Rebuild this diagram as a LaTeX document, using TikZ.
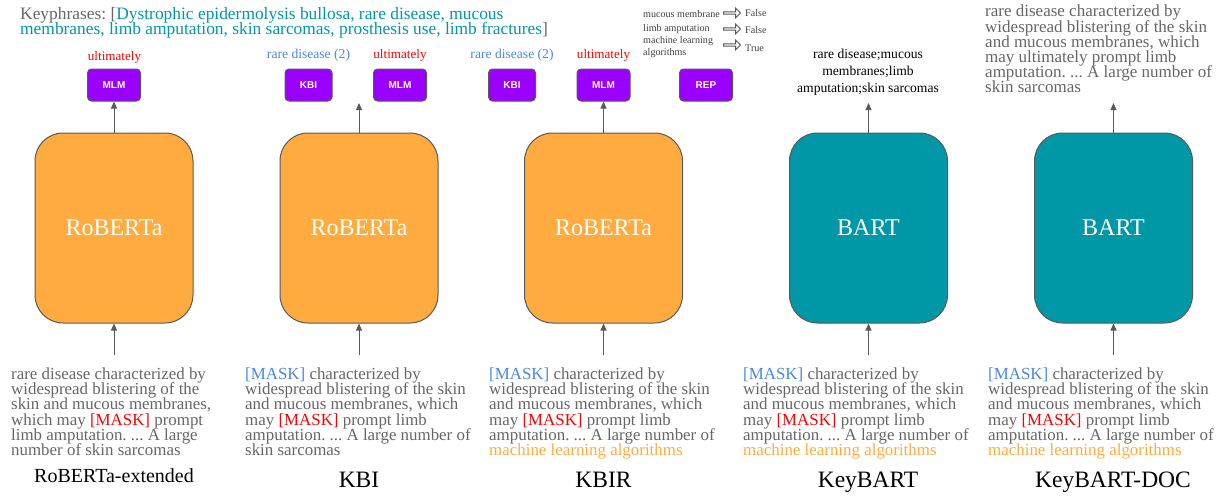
\documentclass[tikz,border=0pt]{standalone}
\usepackage{fontspec}
\setmainfont{Liberation Serif}
\newfontfamily\labelsans{Liberation Sans}
\usetikzlibrary{shapes.arrows,arrows.meta}
\definecolor{bodygray}{HTML}{666666}
\definecolor{maskblue}{HTML}{4A86E8}
\definecolor{maskred}{HTML}{FF0000}
\definecolor{mlorange}{HTML}{FFAB40}
\definecolor{tealtxt}{HTML}{0097A7}
\definecolor{modelteal}{HTML}{0097A7}
\definecolor{headpurple}{HTML}{9900FF}
\definecolor{edgegray}{HTML}{595959}
\newcommand{\tightlines}{\lineskiplimit=-20pt\frenchspacing}
\tikzset{
  modelbox/.style={draw=edgegray,line width=1pt,rounded corners=28pt,minimum width=158pt,minimum height=190pt,inner sep=0pt,text=white,font=\fontsize{24}{26}\selectfont},
  robox/.style={modelbox,fill=mlorange},
  bartbox/.style={modelbox,fill=modelteal},
  headbox/.style={draw=edgegray,line width=1pt,fill=headpurple,rounded corners=4pt,minimum height=32pt,inner sep=0pt,text=white,font=\labelsans\bfseries\fontsize{10}{12}\selectfont},
  conn/.style={draw=edgegray,line width=1pt,-{Triangle[length=7pt,width=6pt]}},
  bodytext/.style={anchor=north west,inner sep=0pt,align=left,text=bodygray,font=\fontsize{16.9}{15.2}\selectfont\tightlines},
  captiontext/.style={anchor=base,inner sep=0pt,text=black,font=\fontsize{23.5}{26}\selectfont},
  toplabel/.style={anchor=base,inner sep=0pt,font=\fontsize{13.6}{15}\selectfont},
  redlabel/.style={toplabel,text=maskred,font=\fontsize{13.1}{15}\selectfont},
  smalltext/.style={anchor=base west,inner sep=0pt,text=black!75,font=\fontsize{10.1}{11}\selectfont},
  blockarrow/.style={single arrow,draw=edgegray,fill=white,line width=.9pt,minimum height=17pt,minimum width=10pt,single arrow head extend=1.5pt,inner sep=0pt}
}
\newcommand{\mbl}[1]{\textcolor{maskblue}{#1}}
\newcommand{\mrd}[1]{\textcolor{maskred}{#1}}
\newcommand{\mog}[1]{\textcolor{mlorange}{#1}}
\newcommand{\boxlabel}[1]{\raisebox{-2pt}{#1}}
\begin{document}
\begin{tikzpicture}[x=1pt,y=-1pt]
\useasboundingbox (0,0) rectangle (1222,495);
% keyphrases
\node[bodytext,font=\fontsize{17.4}{15}\selectfont\tightlines] (keys) at (20,7.5) {Keyphrases: [\textcolor{tealtxt}{Dystrophic epidermolysis bullosa, rare disease, mucous}\\\textcolor{tealtxt}{membranes, limb amputation, skin sarcomas, prosthesis use, limb fractures}]};
% model boxes
\node[robox] (m1) at (114,228) {\boxlabel{RoBERTa}};
\node[robox] (m2) at (359,228) {\boxlabel{RoBERTa}};
\node[robox] (m3) at (603.5,228) {\boxlabel{RoBERTa}};
\node[bartbox] (m4) at (868.5,228) {\boxlabel{BART}};
\node[bartbox] (m5) at (1113.5,228) {\boxlabel{BART}};
% head boxes
\node[headbox,minimum width=53pt] (mlm1) at (114,85) {MLM};
\node[headbox,minimum width=47pt] (kbi2) at (308.5,85) {KBI};
\node[headbox,minimum width=53pt] (mlm2) at (400,85) {MLM};
\node[headbox,minimum width=47pt] (kbi3) at (512,85) {KBI};
\node[headbox,minimum width=53pt] (mlm3) at (603.5,85) {MLM};
\node[headbox,minimum width=53pt] (rep3) at (706,85) {REP};
% head labels
\node[redlabel] (l1) at (114.5,60) {ultimately};
\node[toplabel,text=maskblue] (l2a) at (308.5,59) {rare disease (2)};
\node[redlabel] (l2b) at (400,59) {ultimately};
\node[toplabel,text=maskblue] (l3a) at (512,59) {rare disease (2)};
\node[redlabel] (l3b) at (603.5,59) {ultimately};
% REP annotation
\node[smalltext] (r1) at (643,17.5) {mucous membrane};
\node[smalltext] (r2) at (643,31.5) {limb amputation};
\node[smalltext] (r3) at (643,43.5) {machine learning};
\node[smalltext] (r4) at (643,55.5) {algorithms};
\node[blockarrow] (a1) at (731.5,13) {};
\node[blockarrow] (a2) at (731.5,29) {};
\node[blockarrow] (a3) at (731.5,45) {};
\node[smalltext] (f1) at (745,17) {False};
\node[smalltext] (f2) at (745,34) {False};
\node[smalltext] (f3) at (745,51.5) {True};
% outputs
\node[anchor=north,inner sep=0pt,align=center,text=black,font=\fontsize{13.6}{17}\selectfont] (o4) at (868,48.5) {rare disease;mucous\\membranes;limb\\amputation;skin sarcomas};
\node[bodytext,font=\fontsize{17}{15.2}\selectfont\tightlines] (o5) at (985,5) {rare disease characterized by\\widespread blistering of the skin\\and mucous membranes, which\\may ultimately prompt limb\\amputation. ... A large number of\\skin sarcomas};
% inputs
\node[bodytext] (t1) at (11,367.5) {rare disease characterized by\\widespread blistering of the\\skin and mucous membranes,\\which may \mrd{[MASK]} prompt\\limb amputation. ... A large\\number of skin sarcomas};
\node[bodytext] (t2) at (245,367.5) {\mbl{[MASK]} characterized by\\widespread blistering of the skin\\and mucous membranes, which\\may \mrd{[MASK]} prompt limb\\amputation. ... A large number of\\skin sarcomas};
\node[bodytext] (t3) at (489,367.5) {\mbl{[MASK]} characterized by\\widespread blistering of the skin\\and mucous membranes, which\\may \mrd{[MASK]} prompt limb\\amputation. ... A large number of\\\mog{machine learning algorithms}};
\node[bodytext] (t4) at (743,367.5) {\mbl{[MASK]} characterized by\\widespread blistering of the skin\\and mucous membranes, which\\may \mrd{[MASK]} prompt limb\\amputation. ... A large number of\\\mog{machine learning algorithms}};
\node[bodytext] (t5) at (988,367.5) {\mbl{[MASK]} characterized by\\widespread blistering of the skin\\and mucous membranes, which\\may \mrd{[MASK]} prompt limb\\amputation. ... A large number of\\\mog{machine learning algorithms}};
% captions
\node[captiontext,font=\fontsize{20}{22}\selectfont] (c1) at (114,482) {RoBERTa-extended};
\node[captiontext] (c2) at (359,487) {KBI};
\node[captiontext] (c3) at (603.5,487) {KBIR};
\node[captiontext] (c4) at (868,487) {KeyBART};
\node[captiontext] (c5) at (1113,487) {KeyBART-DOC};
% free ends
\coordinate (in1) at (114,355);
\coordinate (in2) at (359,355);
\coordinate (in3) at (603.5,355);
\coordinate (in4) at (868.5,355);
\coordinate (in5) at (1113.5,355);
\coordinate (out2) at (359,103);
\coordinate (out4) at (868.5,103);
\coordinate (out5) at (1113.5,103);
% connectors
\draw[conn] (in1) -- (m1.south);
\draw[conn] (in2) -- (m2.south);
\draw[conn] (in3) -- (m3.south);
\draw[conn] (in4) -- (m4.south);
\draw[conn] (in5) -- (m5.south);
\draw[conn] (m1.north) -- (mlm1.south);
\draw[conn] (m2.north) -- (out2);
\draw[conn] (m3.north) -- (mlm3.south);
\draw[conn] (m4.north) -- (out4);
\draw[conn] (m5.north) -- (out5);
\end{tikzpicture}
\end{document}
